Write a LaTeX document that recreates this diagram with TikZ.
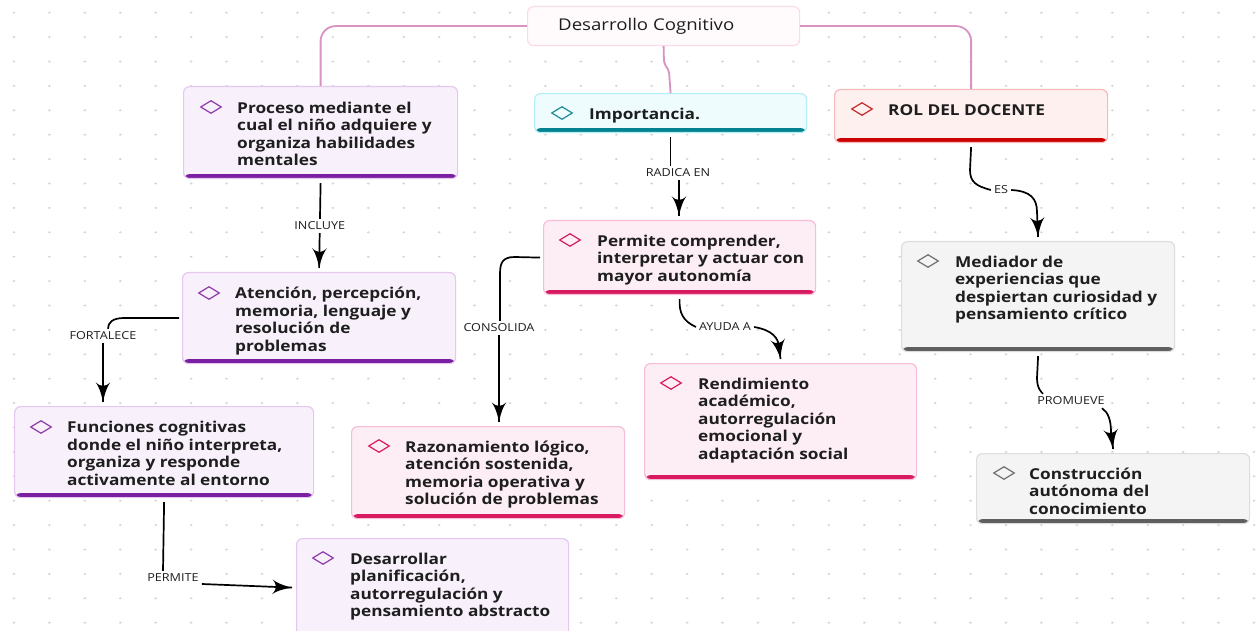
\documentclass[tikz,border=0pt]{standalone}
\usepackage{fontspec}
\setmainfont{Open Sans}[FakeStretch=1.15]
\usetikzlibrary{arrows}
\usetikzlibrary{decorations.markings}
\usetikzlibrary{shapes.geometric}
\definecolor{ink}{HTML}{1E1E1E}
\definecolor{dotgray}{HTML}{D6D6D6}
\definecolor{trunkpink}{HTML}{D993C3}
\definecolor{rootline}{HTML}{FADCE9}
\definecolor{rootfill}{HTML}{FFFBFD}
\definecolor{purpleline}{HTML}{E6C8EF}
\definecolor{purplefill}{HTML}{F8F0FB}
\definecolor{purplebar}{HTML}{7B1FA2}
\definecolor{purplegem}{HTML}{8E3AA8}
\definecolor{cyanline}{HTML}{B4EEF6}
\definecolor{cyanfill}{HTML}{EEFCFE}
\definecolor{cyanbar}{HTML}{00838F}
\definecolor{cyangem}{HTML}{1F8A94}
\definecolor{redline}{HTML}{F6BABA}
\definecolor{redfill}{HTML}{FFF0F0}
\definecolor{redbar}{HTML}{CC0000}
\definecolor{redgem}{HTML}{C62828}
\definecolor{pinkline}{HTML}{F7BDD8}
\definecolor{pinkfill}{HTML}{FDEEF5}
\definecolor{pinkbar}{HTML}{D81B60}
\definecolor{pinkgem}{HTML}{D81B60}
\definecolor{grayline}{HTML}{DDDDDD}
\definecolor{grayfill}{HTML}{F4F4F4}
\definecolor{graybar}{HTML}{5F5F5F}
\definecolor{graygem}{HTML}{707070}
\tikzset{->/.style = {decoration={markings,
                                  mark=at position 1 with {\arrow[scale=2.5]{latex'}}},
                      postaction={decorate}}}
\tikzset{card/.style n args={3}{draw=#1, fill=#2, line width=1.2pt, rounded corners=6pt,
                                inner sep=0pt, anchor=north west,
                                path picture={\fill[#3] ([yshift=4.5pt]path picture bounding box.south west)
                                              rectangle (path picture bounding box.south east);}},
         purplecard/.style={card={purpleline}{purplefill}{purplebar}},
         cyancard/.style={card={cyanline}{cyanfill}{cyanbar}},
         redcard/.style={card={redline}{redfill}{redbar}},
         pinkcard/.style={card={pinkline}{pinkfill}{pinkbar}},
         graycard/.style={card={grayline}{grayfill}{graybar}},
         gem/.style={diamond, draw=#1, line width=1.2pt, minimum width=21pt,
                     minimum height=13pt, inner sep=0pt},
         cardtext/.style={anchor=north west, inner sep=0pt, align=left, text=ink,
                          font=\bfseries\fontsize{15}{17.5}\selectfont},
         tag/.style={fill=white, inner sep=3pt, text=ink, font=\fontsize{11}{13}\selectfont},
         link/.style={draw=black, line width=1.7pt},
         trunk/.style={draw=trunkpink, line width=1.8pt}}

\begin{document}
\begin{tikzpicture}[x=1pt, y=-1pt]
  \fill[white] (0,0) rectangle (1259,631);
  \useasboundingbox (0,0) rectangle (1259,631);
  % dot grid
  \foreach \i in {0,...,35}
    \foreach \j in {0,...,25}
      \fill[dotgray] (14+35.43*\i, 12.7+24.4*\j) ellipse (1.5pt and 1.1pt);

  % central topic
  \node[draw=rootline, fill=rootfill, line width=1.2pt, rounded corners=6pt, inner sep=0pt,
        anchor=north west, minimum width=272pt, minimum height=39pt] (root) at (527,6) {};
  \node[anchor=west, inner sep=0pt, text=ink, font=\fontsize{16.2}{18}\selectfont]
        (root-text) at ([xshift=31pt,yshift=-0.5pt]root.west) {Desarrollo Cognitivo};

  % first level
  \node[purplecard, minimum width=274pt, minimum height=92pt] (proceso) at (183,86) {};
  \node[gem=purplegem] (proceso-gem) at ([xshift=28pt,yshift=-21pt]proceso.north west) {};
  \node[cardtext] (proceso-text) at ([xshift=54pt,yshift=-14.8pt]proceso.north west)
        {\strut Proceso mediante el\\cual el niño adquiere y\\organiza habilidades\\mentales};

  \node[cyancard, minimum width=272pt, minimum height=39pt] (importancia) at (534,93) {};
  \node[gem=cyangem] (importancia-gem) at ([xshift=28pt,yshift=-20pt]importancia.north west) {};
  \node[cardtext] (importancia-text) at ([xshift=55pt,yshift=-13.8pt]importancia.north west)
        {\strut Importancia.};

  \node[redcard, minimum width=273pt, minimum height=53pt] (rol) at (834,89) {};
  \node[gem=redgem] (rol-gem) at ([xshift=28pt,yshift=-20pt]rol.north west) {};
  \node[cardtext] (rol-text) at ([xshift=54pt,yshift=-13.8pt]rol.north west)
        {\strut ROL DEL DOCENTE};

  % left branch
  \node[purplecard, minimum width=273pt, minimum height=91pt] (atencion) at (182,272) {};
  \node[gem=purplegem] (atencion-gem) at ([xshift=27pt,yshift=-21pt]atencion.north west) {};
  \node[cardtext] (atencion-text) at ([xshift=53pt,yshift=-14.4pt]atencion.north west)
        {\strut Atención, percepción,\\memoria, lenguaje y\\resolución de\\problemas};

  \node[purplecard, minimum width=299pt, minimum height=91pt] (funciones) at (14,406) {};
  \node[gem=purplegem] (funciones-gem) at ([xshift=27pt,yshift=-21pt]funciones.north west) {};
  \node[cardtext] (funciones-text) at ([xshift=53pt,yshift=-14.4pt]funciones.north west)
        {\strut Funciones cognitivas\\donde el niño interpreta,\\organiza y responde\\activamente al entorno};

  \node[purplecard, minimum width=272pt, minimum height=98pt] (desarrollar) at (296,538) {};
  \node[gem=purplegem] (desarrollar-gem) at ([xshift=27pt,yshift=-20pt]desarrollar.north west) {};
  \node[cardtext] (desarrollar-text) at ([xshift=54pt,yshift=-13.8pt]desarrollar.north west)
        {\strut Desarrollar\\planificación,\\autorregulación y\\pensamiento abstracto};

  % middle branch
  \node[pinkcard, minimum width=272pt, minimum height=74pt] (permite) at (543,220) {};
  \node[gem=pinkgem] (permite-gem) at ([xshift=27pt,yshift=-20pt]permite.north west) {};
  \node[cardtext] (permite-text) at ([xshift=54pt,yshift=-13.8pt]permite.north west)
        {\strut Permite comprender,\\interpretar y actuar con\\mayor autonomía};

  \node[pinkcard, minimum width=273pt, minimum height=92pt] (razonamiento) at (351,426) {};
  \node[gem=pinkgem] (razonamiento-gem) at ([xshift=28pt,yshift=-20pt]razonamiento.north west) {};
  \node[cardtext] (razonamiento-text) at ([xshift=54pt,yshift=-13.8pt]razonamiento.north west)
        {\strut Razonamiento lógico,\\atención sostenida,\\memoria operativa y\\solución de problemas};

  \node[pinkcard, minimum width=272pt, minimum height=116pt] (rendimiento) at (644,363) {};
  \node[gem=pinkgem] (rendimiento-gem) at ([xshift=27pt,yshift=-20pt]rendimiento.north west) {};
  \node[cardtext] (rendimiento-text) at ([xshift=54pt,yshift=-13.8pt]rendimiento.north west)
        {\strut Rendimiento\\académico,\\autorregulación\\emocional y\\adaptación social};

  % right branch
  \node[graycard, minimum width=273pt, minimum height=110pt] (mediador) at (901,241) {};
  \node[gem=graygem] (mediador-gem) at ([xshift=27pt,yshift=-20pt]mediador.north west) {};
  \node[cardtext] (mediador-text) at ([xshift=54pt,yshift=-13.8pt]mediador.north west)
        {\strut Mediador de\\experiencias que\\despiertan curiosidad y\\pensamiento crítico};

  \node[graycard, minimum width=273pt, minimum height=70pt] (construccion) at (976,453) {};
  \node[gem=graygem] (construccion-gem) at ([xshift=28pt,yshift=-20pt]construccion.north west) {};
  \node[cardtext] (construccion-text) at ([xshift=53pt,yshift=-13.8pt]construccion.north west)
        {\strut Construcción\\autónoma del\\conocimiento};

  % trunk lines
  \draw[trunk, rounded corners=15pt] (root.west) -| (proceso.north);
  \draw[trunk, rounded corners=15pt] (root.east) -| (rol.north);
  \draw[trunk, rounded corners=3pt] (root.south) -- (664,63) -- (669,71) -- (importancia.north);

  % labelled links
  \draw[link, ->] ([yshift=-4pt]proceso.south) -- node[tag] (incluye) {INCLUYE}
        ([yshift=4pt]atencion.north);

  \node[tag] (radica) at (678,173) {RADICA EN};
  \draw[link] ([yshift=-4pt]importancia.south) -- (importancia.south |- radica.north);
  \draw[link, ->] ([xshift=1pt]radica.south) -- ([xshift=1pt,yshift=4pt]radica.south |- permite.north);

  \node[tag] (es) at (1001,190) {ES};
  \draw[link] ([yshift=-4pt]rol.south) -- (970,170) .. controls (970,182) and (976,186) .. (es.west);
  \draw[link, ->] (es.east) .. controls (1031,191) and (1037,199) .. (1037,212)
        -- ([yshift=4pt]mediador.north);

  \node[tag] (fortalece) at (103,336) {FORTALECE};
  \draw[link] ([xshift=-3pt]atencion.west) -- (124,318) .. controls (112,318) and (108,323)
        .. ([xshift=5pt]fortalece.north);
  \draw[link, ->] (fortalece.south) -- ([yshift=4pt]fortalece.south |- funciones.north);

  \node[tag] (permite-tag) at (173,578) {PERMITE};
  \draw[link] ([yshift=-4pt]funciones.south) -- ([xshift=-10pt]permite-tag.north);
  \draw[link, ->] ([yshift=-6pt]permite-tag.east) -- ([xshift=-4pt]desarrollar.west);

  \node[tag] (consolida) at (499,328) {CONSOLIDA};
  \draw[link] ([xshift=-3pt]permite.west) -- (515,257) .. controls (503,257) and (500,262)
        .. (500,274) -- ([xshift=1pt]consolida.north);
  \draw[link, ->] (consolida.south) -- ([yshift=4pt]consolida.south |- razonamiento.north);

  \node[tag] (ayuda) at (725,327) {AYUDA A};
  \draw[link] ([yshift=-4pt]permite.south) .. controls (679,313) and (683,321) .. (ayuda.west);
  \draw[link, ->] (ayuda.east) .. controls (772,330) and (779,338) .. (779,348)
        -- ([yshift=4pt]rendimiento.north);

  \node[tag] (promueve) at (1071,401) {PROMUEVE};
  \draw[link] ([yshift=-4pt]mediador.south) -- (1037,378) .. controls (1037,388) and (1041,392)
        .. ([xshift=9pt]promueve.north west);
  \draw[link, ->] ([xshift=-6pt]promueve.south east) .. controls (1108,412) and (1111,420)
        .. (1111,432) -- ([yshift=4pt]construccion.north);
\end{tikzpicture}
\end{document}
